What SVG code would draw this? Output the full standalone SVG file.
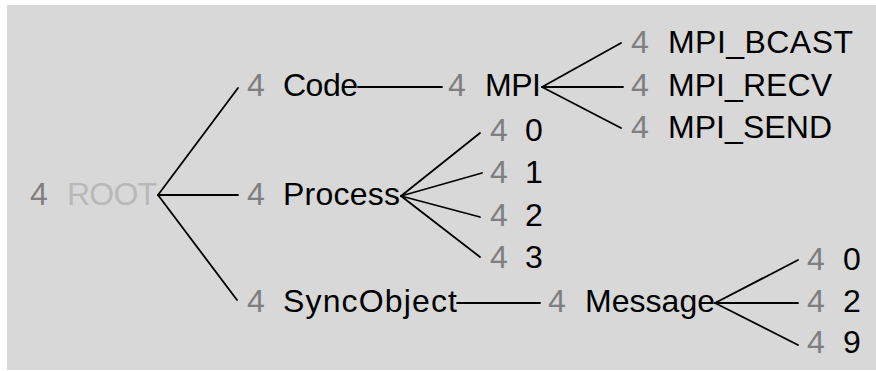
<svg xmlns="http://www.w3.org/2000/svg" width="876" height="371" viewBox="0 0 876 371">
<style>
text{font-family:"Liberation Sans",Arial,sans-serif;font-size:32px;fill:#000}
.n{fill:#7f7f7f}
.r{fill:#b8b8b8}
.c line{stroke:#000;stroke-width:1.8;stroke-linecap:round}
</style>
<rect x="0" y="0" width="876" height="371" fill="#ffffff"/>
<rect x="7" y="5" width="869" height="365" fill="#d8d8d8"/>
<g class="c" id="connectors">
<line x1="158" y1="195" x2="238" y2="88"/>
<line x1="158" y1="195" x2="238" y2="195"/>
<line x1="158" y1="195" x2="237" y2="300"/>
<line x1="358" y1="87" x2="442" y2="87"/>
<line x1="542" y1="87" x2="621" y2="43"/>
<line x1="542" y1="87" x2="623" y2="87"/>
<line x1="542" y1="87" x2="621" y2="128"/>
<line x1="401" y1="196" x2="480" y2="133"/>
<line x1="401" y1="196" x2="482" y2="173"/>
<line x1="401" y1="196" x2="480" y2="217"/>
<line x1="401" y1="196" x2="480" y2="257"/>
<line x1="457" y1="303" x2="540" y2="303"/>
<line x1="715" y1="303" x2="798" y2="260"/>
<line x1="715" y1="303" x2="798" y2="303"/>
<line x1="715" y1="303" x2="798" y2="345"/>
</g>
<g id="root"><text class="n" x="30" y="205">4</text><text class="r" x="67" y="205" textLength="90">ROOT</text></g>
<g id="code"><text class="n" x="247" y="96">4</text><text x="283" y="96" textLength="75">Code</text></g>
<g id="process"><text class="n" x="247" y="205">4</text><text x="283" y="205" textLength="117">Process</text></g>
<g id="syncobject"><text class="n" x="247" y="312">4</text><text x="283" y="312" textLength="174">SyncObject</text></g>
<g id="mpi"><text class="n" x="448" y="96">4</text><text x="485" y="96" textLength="56">MPI</text></g>
<g id="mpi_bcast"><text class="n" x="631" y="53">4</text><text x="668" y="53" textLength="185">MPI_BCAST</text></g>
<g id="mpi_recv"><text class="n" x="631" y="96">4</text><text x="668" y="96" textLength="164">MPI_RECV</text></g>
<g id="mpi_send"><text class="n" x="631" y="138">4</text><text x="668" y="138" textLength="164">MPI_SEND</text></g>
<g id="p0"><text class="n" x="490" y="141">4</text><text x="525" y="141">0</text></g>
<g id="p1"><text class="n" x="490" y="183">4</text><text x="525" y="183">1</text></g>
<g id="p2"><text class="n" x="490" y="226">4</text><text x="525" y="226">2</text></g>
<g id="p3"><text class="n" x="490" y="268">4</text><text x="525" y="268">3</text></g>
<g id="message"><text class="n" x="548" y="312">4</text><text x="585" y="312" textLength="130">Message</text></g>
<g id="m0"><text class="n" x="807" y="270">4</text><text x="843" y="270">0</text></g>
<g id="m2"><text class="n" x="807" y="312">4</text><text x="843" y="312">2</text></g>
<g id="m9"><text class="n" x="807" y="353">4</text><text x="843" y="353">9</text></g>
</svg>
